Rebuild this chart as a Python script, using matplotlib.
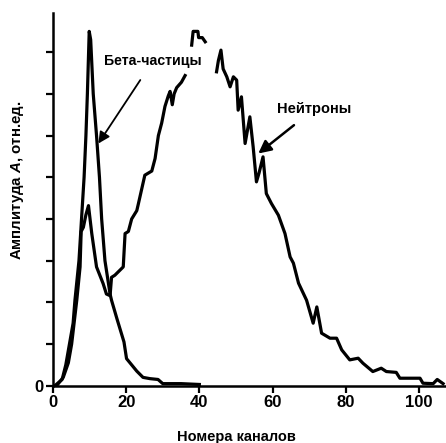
import numpy as np
import matplotlib.pyplot as plt

plt.rcParams['font.family'] = ['Liberation Sans', 'DejaVu Sans']
plt.rcParams['font.weight'] = 'bold'
plt.rcParams['mathtext.fontset'] = 'custom'
plt.rcParams['mathtext.it'] = 'Liberation Sans:italic:bold'
plt.rcParams['mathtext.rm'] = 'Liberation Sans:bold'

# beta particles spectrum
beta_x = [0.5, 2.5, 3.5, 4.6, 5.5, 6.0, 7.1, 7.8, 8.5, 9.0, 9.4, 9.9, 10.3,
          11.0, 11.9, 12.7, 13.3, 14.2, 15.6, 16.0, 17.5, 19.4, 20.1, 21.5,
          22.9, 24.6, 26.5, 28.7, 30.0, 35.0, 40.0]
beta_y = [0.0, 0.15, 0.5, 1.05, 1.5, 2.05, 3.0, 4.0, 5.0, 6.0, 7.0, 8.5, 8.3,
          7.0, 6.0, 5.0, 4.0, 3.0, 2.2, 2.05, 1.6, 1.05, 0.65, 0.5,
          0.35, 0.2, 0.17, 0.15, 0.05, 0.05, 0.03]

# neutron spectrum (gaps as in the original scan)
neutron_x = [1.0, 2.8, 4.2, 5.1, 6.5, 7.4, 7.7, 8.3, 9.0, 9.7, 10.6, 11.9,
             13.7, 14.6, 15.6, 16.0, 16.9, 19.2, 19.7, 20.6, 21.5, 22.9, 23.3,
             25.1, 27.0, 27.9, 28.8, 29.7, 30.6, 31.5, 32.0, 32.6, 33.1, 33.8,
             34.7, 35.1, 36.1, np.nan,
             37.9, 38.3, 39.6, 39.8, 40.8, 41.6, np.nan,
             44.7, 45.2, 45.9, 46.5, 47.5, 48.4, 49.3, 50.2, 50.6, 51.5, 52.5,
             53.8, 54.7, 55.6, 56.3, 57.4, 58.3, 59.7, 61.6, 63.4, 64.8, 65.7,
             67.1, 69.3, 71.1, 72.1, 73.4, 75.7, 77.5, 78.9, 81.1, 83.4, 84.7,
             87.4, 89.7, 91.1, 93.8, 94.8, 98.4, 100.3, 101.1, 103.9, 105.0,
             106.6]
neutron_y = [0.0, 0.2, 0.55, 1.0, 2.05, 2.85, 3.7, 3.8, 4.1, 4.32, 3.65, 2.85,
             2.45, 2.2, 2.16, 2.6, 2.65, 2.85, 3.65, 3.7, 4.0, 4.2, 4.35,
             5.05, 5.15, 5.45, 6.0, 6.3, 6.7, 6.95, 7.06, 6.74, 7.0, 7.15,
             7.24, 7.28, 7.44, np.nan,
             8.17, 8.5, 8.5, 8.35, 8.35, 8.25, np.nan,
             7.53, 7.8, 8.05, 7.6, 7.41, 7.17, 7.41, 7.33, 6.61, 6.93, 5.81,
             6.45, 5.73, 4.89, 5.1, 5.49, 4.61, 4.37, 4.09, 3.65, 3.09, 2.94,
             2.46, 2.05, 1.5, 1.89, 1.26, 1.14, 1.14, 0.86, 0.62, 0.66, 0.54,
             0.34, 0.42, 0.34, 0.32, 0.18, 0.18, 0.18, 0.06, 0.05, 0.15,
             0.05]

x_ticks = [0, 20, 40, 60, 80, 100]
y_ticks = [0, 1, 2, 3, 4, 5, 6, 7, 8]

fig = plt.figure(figsize=(4.46, 4.43), dpi=100)
ax = fig.add_axes([0.1188, 0.1293, 0.8812, 0.8413])

ax.plot(beta_x, beta_y, color='black', linewidth=2.3)
ax.plot(neutron_x, neutron_y, color='black', linewidth=2.3)

ax.set_xlim(0, 107.4)
ax.set_ylim(0, 8.94)
ax.set_xticks(x_ticks)
ax.set_yticks(y_ticks)
ax.set_yticklabels(['0'] + [''] * 8)

for s in ['top', 'right']:
    ax.spines[s].set_visible(False)
for s in ['left', 'bottom']:
    ax.spines[s].set_linewidth(1.8)

ax.tick_params(axis='both', direction='out', length=5, width=1.6,
               labelsize=12, pad=2)

ax.set_xlabel("Номера каналов", fontsize=10.5, fontweight='bold',
              x=0.468, labelpad=14)
ax.set_ylabel("Амплитуда $A$, отн.ед.", fontsize=10.8, fontweight='bold',
              y=0.552, labelpad=6)

ax.annotate("Бета-частицы", xy=(12.4, 5.81), xytext=(27.3, 7.79),
            fontsize=10.2, fontweight='bold', ha='center', va='center',
            arrowprops=dict(arrowstyle='-|>', color='black', lw=1.3,
                            mutation_scale=17, shrinkA=8, shrinkB=0))
ax.annotate("Нейтроны", xy=(56.1, 5.57), xytext=(71.3, 6.63),
            fontsize=10.5, fontweight='bold', ha='center', va='center',
            arrowprops=dict(arrowstyle='-|>', color='black', lw=1.8,
                            mutation_scale=19, shrinkA=7, shrinkB=0))

plt.savefig("out.png", dpi=100)
